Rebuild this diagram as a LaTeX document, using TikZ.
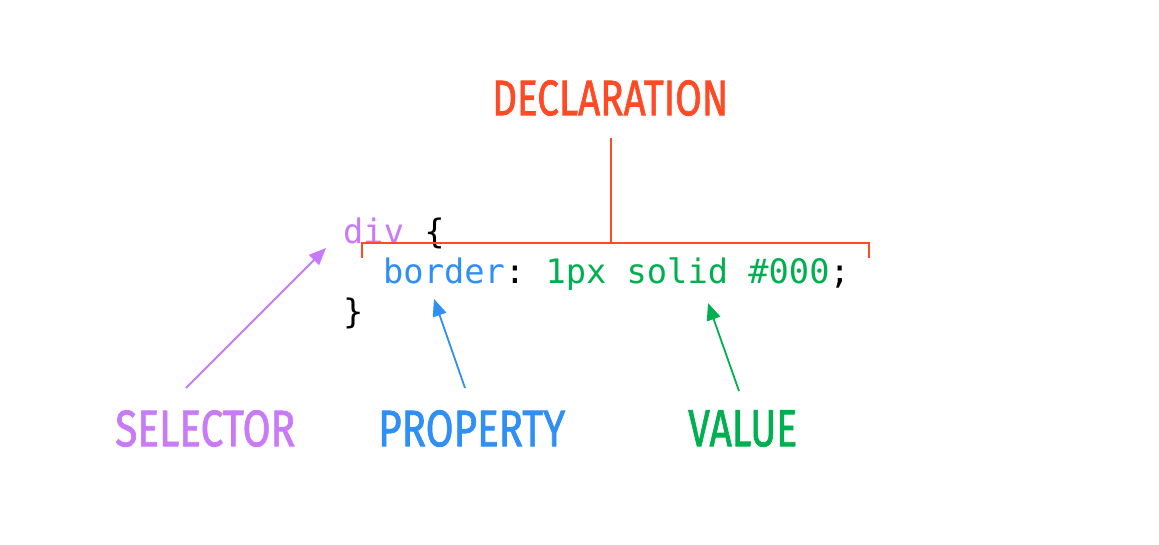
\documentclass[tikz,border=0pt]{standalone}
\usepackage{fontspec}
\setmonofont{DejaVu Sans Mono}
\newfontfamily\lblfont{Fira Sans}[FakeBold=1.6]
\usetikzlibrary{arrows.meta}
\definecolor{cdecl}{HTML}{FF4A26}
\definecolor{csel}{HTML}{C87AF7}
\definecolor{cprop}{HTML}{2F8FF5}
\definecolor{cval}{HTML}{00B050}
\tikzset{
  codeline/.style={anchor=base west, inner sep=0pt, font=\fontsize{33.7}{40}\ttfamily},
  biglabel/.style={anchor=north west, inner sep=0pt},
  pointer/.style={line width=1.8pt, -{Triangle[length=17pt,width=14pt]}},
  bracketline/.style={draw=cdecl, line width=1.8pt},
}
\newcommand{\lbl}[3]{\resizebox{#1pt}{#2pt}{\lblfont #3}}
\begin{document}
\begin{tikzpicture}[x=1pt,y=-1pt]
\useasboundingbox[fill=white] (0,0) rectangle (1159,544);
% code
\node[codeline] (l1) at (343,243) {\textcolor{csel}{div} \textcolor{black}{\{}};
\node[codeline] (l2) at (383,283) {\textcolor{cprop}{border}\textcolor{black}{:} \textcolor{cval}{1px solid \#000}\textcolor{black}{;}};
\node[codeline] (l3) at (343,323) {\}};
% labels
\node[biglabel, text=cdecl] (decl) at (492,80) {\lbl{236}{35}{DECLARATION}};
\node[biglabel, text=csel] (sel) at (115,410) {\lbl{180}{36}{SELECTOR}};
\node[biglabel, text=cprop] (prop) at (378,410) {\lbl{187}{36}{PROPERTY}};
\node[biglabel, text=cval] (val) at (688,410) {\lbl{109}{36}{VALUE}};
% bracket
\coordinate (bl) at (362,258);
\coordinate (br) at (869,258);
\coordinate (bm) at (611,243);
\coordinate (dtail) at (611,138);
\draw[bracketline] (bl) -- ++(0,-15) -| (br);
\draw[bracketline] (dtail) -- (bm);
% pointers
\coordinate (seltail) at (186,388);
\coordinate (seltip) at (326,248);
\coordinate (proptail) at (465,388);
\coordinate (proptip) at (434,299);
\coordinate (valtail) at (739,391);
\coordinate (valtip) at (708,303);
\draw[pointer, draw=csel, fill=csel] (seltail) -- (seltip);
\draw[pointer, draw=cprop, fill=cprop] (proptail) -- (proptip);
\draw[pointer, draw=cval, fill=cval] (valtail) -- (valtip);
\end{tikzpicture}
\end{document}
